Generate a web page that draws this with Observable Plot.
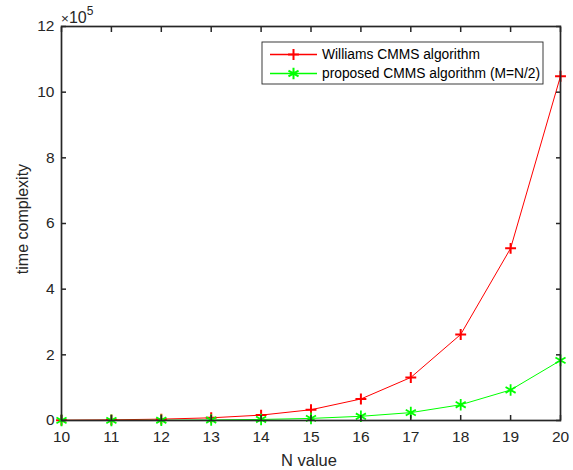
<!DOCTYPE html>
<html><head><meta charset="utf-8">
<script src="https://cdn.jsdelivr.net/npm/d3@7"></script>
<script src="https://cdn.jsdelivr.net/npm/@observablehq/plot@0.6"></script>
<style>body{margin:0;background:#fff;overflow:hidden;}</style>
</head><body><div id="chart"></div>
<script>
const nValues = [10, 11, 12, 13, 14, 15, 16, 17, 18, 19, 20];
const williams = [1024, 2048, 4096, 8192, 16384, 32768, 65536, 131072, 262144, 524288, 1048576];
const proposed = [200, 400, 800, 1600, 3200, 6400, 12800, 24000, 48000, 93000, 183000];
const seriesNames = ["Williams CMMS algorithm", "proposed CMMS algorithm (M=N/2)"];
const seriesColors = ["#ff0000", "#00ff00"];
const seriesSymbols = ["plus", "asterisk"];
const xTicks = [10, 11, 12, 13, 14, 15, 16, 17, 18, 19, 20];
const xTickLabels = ["10", "11", "12", "13", "14", "15", "16", "17", "18", "19", "20"];
const yTicks = [0, 200000, 400000, 600000, 800000, 1000000, 1200000];
const yTickLabels = ["0", "2", "4", "6", "8", "10", "12"];
const yExponent = "5";
const xLabel = "N value";
const yLabel = "time complexity";

const rowsW = nValues.map((n, i) => ({n, v: williams[i]}));
const rowsP = nValues.map((n, i) => ({n, v: proposed[i]}));
const axisColor = "#262626";
const font = "Liberation Sans, Arial, sans-serif";
const markerR = [3.6, 5.5];
const tickFont = 15.5;

const plot = Plot.plot({
  width: 573, height: 470,
  marginLeft: 61, marginRight: 13, marginTop: 26, marginBottom: 50,
  style: {fontFamily: font, fontSize: "15.5px", color: axisColor, background: "white", overflow: "visible"},
  x: {domain: [10, 20], axis: null},
  y: {domain: [0, 1200000], axis: null},
  marks: [
    Plot.lineY(rowsW, {x: "n", y: "v", stroke: seriesColors[0], strokeWidth: 1}),
    Plot.lineY(rowsP, {x: "n", y: "v", stroke: seriesColors[1], strokeWidth: 1}),
    Plot.dot(rowsW, {x: "n", y: "v", symbol: seriesSymbols[0], r: markerR[0], stroke: seriesColors[0], strokeWidth: 2}),
    Plot.dot(rowsP, {x: "n", y: "v", symbol: seriesSymbols[1], r: markerR[1], stroke: seriesColors[1], strokeWidth: 1.8}),
    Plot.frame({stroke: axisColor, strokeWidth: 1.7}),
    // tick labels
    Plot.text(xTicks, {x: d => d, frameAnchor: "bottom", dy: 10, lineAnchor: "top", text: (d, i) => xTickLabels[i], fontSize: tickFont, fill: axisColor}),
    Plot.text(yTicks, {y: d => d, frameAnchor: "left", dx: -7, textAnchor: "end", text: (d, i) => yTickLabels[i], fontSize: tickFont, fill: axisColor}),
    // inward tick marks
    Plot.axisX({ticks: xTicks, anchor: "bottom", tickSize: 5, dy: -5, tickFormat: () => "", label: null, stroke: axisColor, strokeWidth: 1.5}),
    Plot.axisX({ticks: xTicks, anchor: "top", tickSize: 5, dy: 5, tickFormat: () => "", label: null, stroke: axisColor, strokeWidth: 1.5}),
    Plot.axisY({ticks: yTicks, anchor: "left", tickSize: 5, dx: 5, tickFormat: () => "", label: null, stroke: axisColor, strokeWidth: 1.5}),
    Plot.axisY({ticks: yTicks, anchor: "right", tickSize: 5, dx: -5, tickFormat: () => "", label: null, stroke: axisColor, strokeWidth: 1.5})
  ]
});
document.getElementById("chart").appendChild(plot);

const svg = d3.select(plot);
// axis labels
svg.append("text").attr("x", 309).attr("y", 466).attr("text-anchor", "middle")
  .style("font-size", "16.5px").style("font-family", font).attr("fill", axisColor).text(xLabel);
svg.append("text").attr("transform", "translate(28,219) rotate(-90)").attr("text-anchor", "middle")
  .style("font-size", "16px").style("font-family", font).attr("fill", axisColor).text(yLabel);
// exponent
const ex = svg.append("text").attr("x", 61).attr("y", 22.7).attr("text-anchor", "start")
  .attr("fill", axisColor).style("font-family", font);
ex.append("tspan").style("font-size", "13.5px").text("\u00d7");
ex.append("tspan").style("font-size", "16px").text("10");
ex.append("tspan").attr("dy", -7.7).style("font-size", "12px").text(yExponent);

// legend
const lg = svg.append("g").attr("transform", "translate(262,42)");
lg.append("rect").attr("width", 281).attr("height", 42).attr("fill", "white").attr("stroke", axisColor).attr("stroke-width", 0.9);
const symMap = {plus: d3.symbolPlus, asterisk: d3.symbolAsterisk};
seriesNames.forEach((name, i) => {
  const y = 12.5 + i * 19;
  lg.append("line").attr("x1", 8).attr("x2", 55).attr("y1", y).attr("y2", y)
    .attr("stroke", seriesColors[i]).attr("stroke-width", 1.3);
  lg.append("path").attr("transform", `translate(31.5,${y})`)
    .attr("d", d3.symbol(symMap[seriesSymbols[i]], Math.PI * markerR[i] * markerR[i])())
    .attr("fill", "none").attr("stroke", seriesColors[i]).attr("stroke-width", 2);
  lg.append("text").attr("x", 60).attr("y", y).attr("dy", "0.35em").attr("text-anchor", "start")
    .attr("fill", "#000").style("font-size", "13.8px").style("font-family", font).text(name);
});
</script>
</body></html>
